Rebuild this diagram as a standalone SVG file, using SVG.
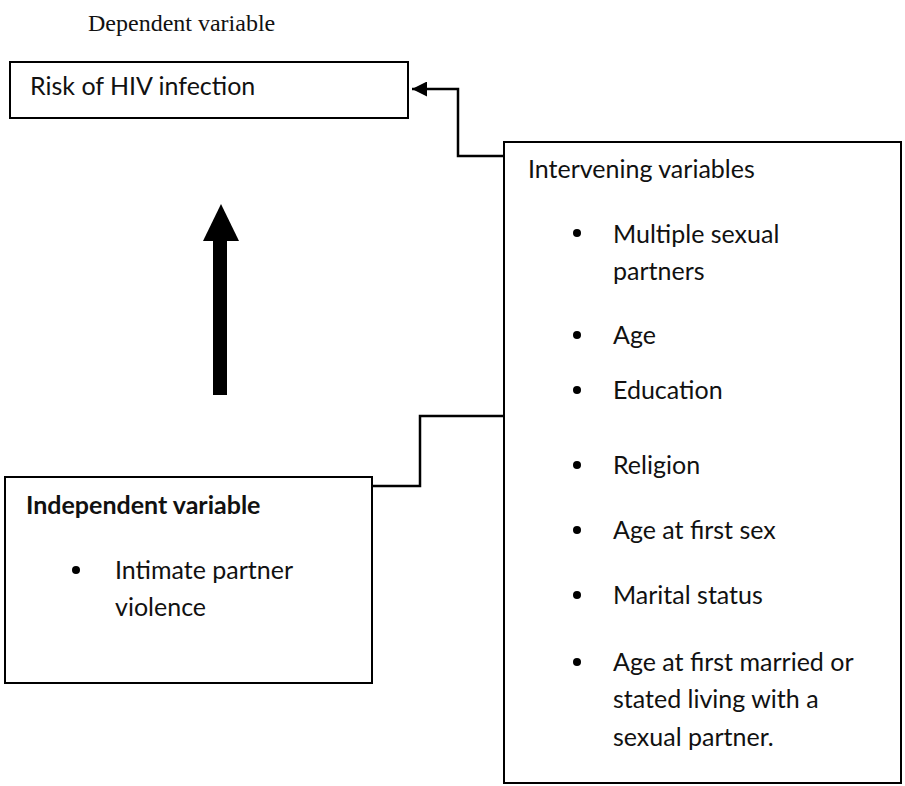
<svg xmlns="http://www.w3.org/2000/svg" width="905" height="786" viewBox="0 0 905 786">
<style>
.box{fill:#fff;stroke:#000;stroke-width:2}
.t{font-family:Lato,"Open Sans","Liberation Sans",sans-serif;font-size:25px;fill:#111}
.b{font-weight:bold}
.serif{font-family:"Liberation Serif","Times New Roman",serif;font-size:24px;fill:#111}
.conn{fill:none;stroke:#000;stroke-width:2.5}
</style>
<defs>
<marker id="ah" viewBox="0 0 10 10" refX="10" refY="5" markerWidth="6" markerHeight="6" markerUnits="strokeWidth" orient="auto">
<path d="M0,0 L10,5 L0,10 z" fill="#000"/>
</marker>
</defs>
<rect width="905" height="786" fill="#fff"/>
<text class="serif" x="88" y="31">Dependent variable</text>
<g id="connectors">
<path class="conn" d="M504,156 H458 V89 H412" marker-end="url(#ah)"/>
<path class="conn" d="M372,486 H420 V416 H504"/>
<g id="thick-arrow">
<rect x="213" y="240" width="14" height="155" fill="#000"/>
<polygon points="221,204 239,241 203,241" fill="#000"/>
</g>
</g>
<g id="dependent">
<rect class="box" x="10" y="62" width="398" height="56"/>
<text class="t" x="30" y="95">Risk of HIV infection</text>
</g>
<g id="intervening">
<rect class="box" x="504" y="142" width="397" height="641"/>
<text class="t" x="528" y="178">Intervening variables</text>
<circle cx="577" cy="233" r="4"/><text class="t" x="613" y="243">Multiple sexual</text>
<text class="t" x="613" y="280">partners</text>
<circle cx="577" cy="335" r="4"/><text class="t" x="613" y="344">Age</text>
<circle cx="577" cy="390" r="4"/><text class="t" x="613" y="399">Education</text>
<circle cx="577" cy="465" r="4"/><text class="t" x="613" y="474">Religion</text>
<circle cx="577" cy="530" r="4"/><text class="t" x="613" y="539">Age at first sex</text>
<circle cx="577" cy="595" r="4"/><text class="t" x="613" y="604">Marital status</text>
<circle cx="577" cy="662" r="4"/><text class="t" x="613" y="671">Age at first married or</text>
<text class="t" x="613" y="708">stated living with a</text>
<text class="t" x="613" y="746">sexual partner.</text>
</g>
<g id="independent">
<rect class="box" x="5" y="477" width="367" height="206"/>
<text class="t b" x="26" y="514">Independent variable</text>
<circle cx="76" cy="570" r="4"/>
<text class="t" x="115" y="579">Intimate partner</text>
<text class="t" x="115" y="616">violence</text>
</g>
</svg>
